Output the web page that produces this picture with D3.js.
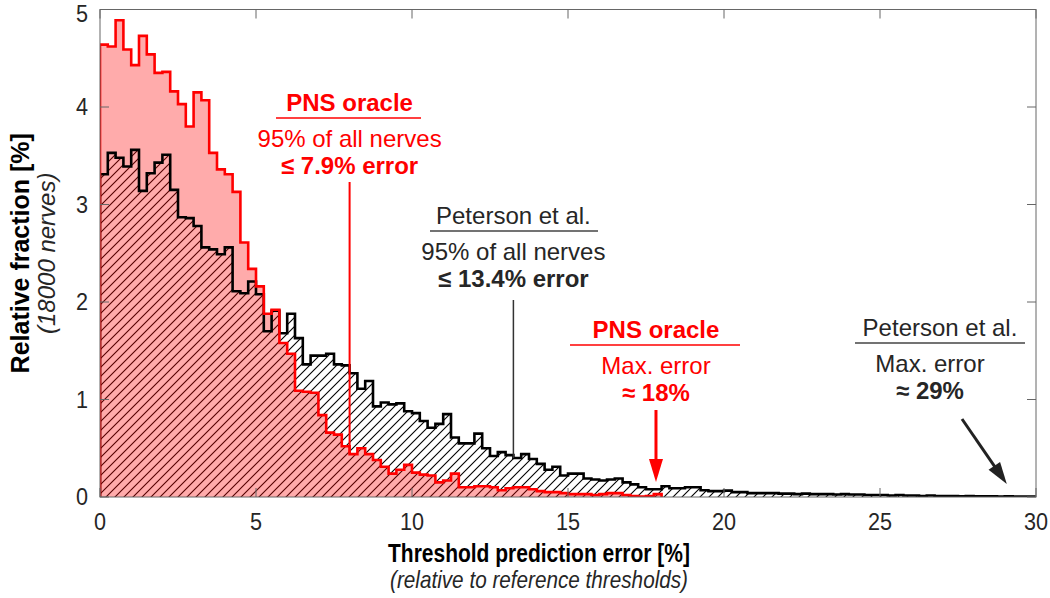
<!DOCTYPE html>
<html><head><meta charset="utf-8">
<script src="https://cdn.jsdelivr.net/npm/d3@7"></script>
<style>body{margin:0;background:#fff} svg{display:block}</style>
</head><body>
<svg id="c" width="1050" height="598"></svg>
<script>
// ---- data ----
const binWidth = 0.25; // histogram bin width [% error]
const pnsOracle = [4.64,4.62,4.89,4.59,4.43,4.73,4.54,4.35,4.36,4.16,
  4.03,3.80,4.15,4.07,3.53,3.36,3.31,3.13,2.61,2.34,
  2.16,1.88,1.92,1.58,1.47,1.09,1.08,1.07,0.84,0.66,
  0.64,0.52,0.44,0.50,0.44,0.38,0.31,0.24,0.28,0.33,
  0.25,0.23,0.22,0.15,0.17,0.24,0.10,0.10,0.11,0.11,
  0.10,0.07,0.09,0.10,0.10,0.08,0.06,0.05,0.05,0.04,
  0.03,0.03,0.03,0.02,0.03,0.04,0.04,0.02,0.01,0.005,
  0.01,0.03];
const peterson = [3.31,3.53,3.48,3.39,3.56,3.14,3.32,3.43,3.51,3.15,
  2.87,2.86,2.78,2.56,2.54,2.49,2.56,2.11,2.09,2.21,
  2.08,1.70,1.91,1.68,1.88,1.63,1.36,1.45,1.45,1.47,
  1.36,1.35,1.27,1.11,1.19,0.93,0.97,0.95,0.96,0.88,
  0.86,0.78,0.71,0.75,0.85,0.61,0.55,0.55,0.65,0.50,
  0.42,0.46,0.43,0.40,0.44,0.39,0.34,0.28,0.31,0.22,
  0.24,0.24,0.19,0.18,0.17,0.18,0.19,0.15,0.13,0.10,
  0.08,0.08,0.11,0.09,0.09,0.10,0.10,0.07,0.06,0.06,
  0.065,0.05,0.05,0.04,0.04,0.04,0.04,0.035,0.035,0.03,
  0.035,0.03,0.03,0.03,0.025,0.03,0.025,0.025,0.02,0.02,
  0.02,0.015,0.02,0.015,0.015,0.01,0.015,0.01,0.01,0.01,
  0.008,0.01,0.008,0.006,0.008,0.005,0.006,0.005,0.004,0.004];
const xTicks = [0,5,10,15,20,25,30];
const yTicks = [0,1,2,3,4,5];
const xTitle = "Threshold prediction error [%]";
const xSub = "(relative to reference thresholds)";
const yTitle = "Relative fraction [%]";
const ySub = "(18000 nerves)";
const pct95 = {pns: 8.0, pet: 13.25};
const maxErr = {pns: 17.82, pet: 29.0};

// ---- layout ----
const svg = d3.select("#c");
const L = 100, R = 1036, T = 9.5, B = 497;
const x = d3.scaleLinear().domain([0,30]).range([L,R]);
const y = d3.scaleLinear().domain([0,5]).range([B,T]);
const FONT = "'Liberation Sans', Arial, Helvetica, sans-serif";
const RED = "#ff0000", DARK = "#262626";

const defs = svg.append("defs");
const pat = defs.append("pattern").attr("id","hatch")
  .attr("patternUnits","userSpaceOnUse").attr("width",9).attr("height",9);
pat.append("path").attr("d","M-1,1 l2,-2 M0,9 l9,-9 M8,10 l2,-2")
  .attr("stroke","#000").attr("stroke-width",1.1);
defs.append("clipPath").attr("id","clip").append("rect")
  .attr("x",L).attr("y",T).attr("width",R-L).attr("height",B-T);

function steps(vals){
  const pts=[[0,0]];
  vals.forEach((v,i)=>{pts.push([i*binWidth,v],[(i+1)*binWidth,v]);});
  pts.push([vals.length*binWidth,0]);
  return pts;
}
const area = d3.area().x(d=>x(d[0])).y0(y(0)).y1(d=>y(d[1]));
const line = d3.line().x(d=>x(d[0])).y(d=>y(d[1]));

const g = svg.append("g").attr("clip-path","url(#clip)");
g.append("path").attr("d",area(steps(peterson))).attr("fill","url(#hatch)");
g.append("path").attr("d",area(steps(pnsOracle))).attr("fill",RED).attr("fill-opacity",0.33);
g.append("path").attr("d",line(steps(peterson))).attr("fill","none").attr("stroke","#000").attr("stroke-width",2.6);
g.append("path").attr("d",line(steps(pnsOracle))).attr("fill","none").attr("stroke",RED).attr("stroke-width",2.6);

function valAt(vals,xv){ const i=Math.min(vals.length-1,Math.floor(xv/binWidth)); return vals[i]; }

// ---- annotations ----
function block(cx, cx2, title, titleBold, l1, l2, color, lineCol, yTop, ulx0, ulx1){
  svg.append("text").attr("x",cx).attr("y",yTop).attr("text-anchor","middle")
    .attr("font-family",FONT).attr("font-size",24).attr("font-weight",titleBold?"bold":"normal").attr("fill",color).text(title);
  svg.append("line").attr("x1",ulx0).attr("x2",ulx1).attr("y1",yTop+7).attr("y2",yTop+7)
    .attr("stroke",lineCol).attr("stroke-width",1.5);
  svg.append("text").attr("x",cx2).attr("y",yTop+36).attr("text-anchor","middle")
    .attr("font-family",FONT).attr("font-size",24).attr("fill",color).text(l1);
  svg.append("text").attr("x",cx2).attr("y",yTop+63).attr("text-anchor","middle")
    .attr("font-family",FONT).attr("font-size",24).attr("font-weight","bold").attr("fill",color).text(l2);
}
block(x(pct95.pns), x(pct95.pns), "PNS oracle", true, "95% of all nerves", "\u2264 7.9% error", RED, RED, 111, 276, 421);
svg.append("line").attr("x1",x(pct95.pns)).attr("x2",x(pct95.pns)).attr("y1",182)
  .attr("y2",y(valAt(pnsOracle,pct95.pns))).attr("stroke",RED).attr("stroke-width",2);
block(x(pct95.pet), x(pct95.pet), "Peterson et al.", false, "95% of all nerves", "\u2264 13.4% error", DARK, "#444", 224, 430, 598);
svg.append("line").attr("x1",x(pct95.pet)).attr("x2",x(pct95.pet)).attr("y1",300)
  .attr("y2",y(valAt(peterson,pct95.pet))).attr("stroke","#333").attr("stroke-width",1.5);

block(x(maxErr.pns), x(maxErr.pns), "PNS oracle", true, "Max. error", "\u2248 18%", RED, RED, 338, 570, 740);
block(940, 930, "Peterson et al.", false, "Max. error", "\u2248 29%", DARK, "#444", 336, 855, 1025);

// red arrow
const ax = x(maxErr.pns);
svg.append("line").attr("x1",ax).attr("x2",ax).attr("y1",410).attr("y2",465).attr("stroke",RED).attr("stroke-width",3);
svg.append("path").attr("d",`M${ax-7},459 L${ax+7},459 L${ax},482 Z`).attr("fill",RED);
// black arrow
(function(){
  const x0=962,y0=419,x1=x(maxErr.pet)+2,y1=484;
  const ang=Math.atan2(y1-y0,x1-x0), hl=22, hw=7;
  const bx=x1-hl*Math.cos(ang), by=y1-hl*Math.sin(ang);
  svg.append("line").attr("x1",x0).attr("y1",y0).attr("x2",bx+2*Math.cos(ang)).attr("y2",by+2*Math.sin(ang))
    .attr("stroke","#222").attr("stroke-width",3);
  const px=-Math.sin(ang), py=Math.cos(ang);
  svg.append("path").attr("d",`M${bx+hw*px},${by+hw*py} L${bx-hw*px},${by-hw*py} L${x1},${y1} Z`).attr("fill","#222");
})();

// ---- axes box and ticks ----
const axG = svg.append("g");
axG.append("rect").attr("x",L).attr("y",T).attr("width",R-L).attr("height",B-T)
  .attr("fill","none").attr("stroke","#666").attr("stroke-width",1);
const TL = 9;
xTicks.forEach(t=>{
  axG.append("line").attr("x1",x(t)).attr("x2",x(t)).attr("y1",B).attr("y2",B-TL).attr("stroke","#666");
  axG.append("line").attr("x1",x(t)).attr("x2",x(t)).attr("y1",T).attr("y2",T+TL).attr("stroke","#666");
  axG.append("text").attr("x",x(t)).attr("y",530).attr("text-anchor","middle")
    .attr("font-family",FONT).attr("font-size",24).attr("fill",DARK)
    .attr("transform",`translate(${x(t)},0) scale(0.9,1) translate(${-x(t)},0)`).text(d3.format("d")(t));
});
yTicks.forEach(t=>{
  axG.append("line").attr("x1",L).attr("x2",L+TL).attr("y1",y(t)).attr("y2",y(t)).attr("stroke","#666");
  axG.append("line").attr("x1",R).attr("x2",R-TL).attr("y1",y(t)).attr("y2",y(t)).attr("stroke","#666");
  axG.append("text").attr("x",88).attr("y",Math.max(y(t),14)+8.5).attr("text-anchor","end")
    .attr("font-family",FONT).attr("font-size",24).attr("fill",DARK)
    .attr("transform","translate(88,0) scale(0.9,1) translate(-88,0)").text(d3.format("d")(t));
});
// titles
const xc = 539;
svg.append("text").attr("x",xc).attr("y",562).attr("text-anchor","middle")
  .attr("font-family",FONT).attr("font-size",25).attr("font-weight","bold").attr("fill","#000")
  .attr("textLength",302).attr("lengthAdjust","spacingAndGlyphs").text(xTitle);
svg.append("text").attr("x",xc).attr("y",588).attr("text-anchor","middle")
  .attr("font-family",FONT).attr("font-size",24).attr("font-style","italic").attr("fill",DARK)
  .attr("textLength",298).attr("lengthAdjust","spacingAndGlyphs").text(xSub);
svg.append("text").attr("transform",`translate(29,${(T+B)/2}) rotate(-90)`).attr("text-anchor","middle")
  .attr("font-family",FONT).attr("font-size",25).attr("font-weight","bold").attr("fill","#000").text(yTitle);
svg.append("text").attr("transform",`translate(55,${(T+B)/2}) rotate(-90)`).attr("text-anchor","middle")
  .attr("font-family",FONT).attr("font-size",24).attr("font-style","italic").attr("fill",DARK).text(ySub);
</script>
</body></html>
